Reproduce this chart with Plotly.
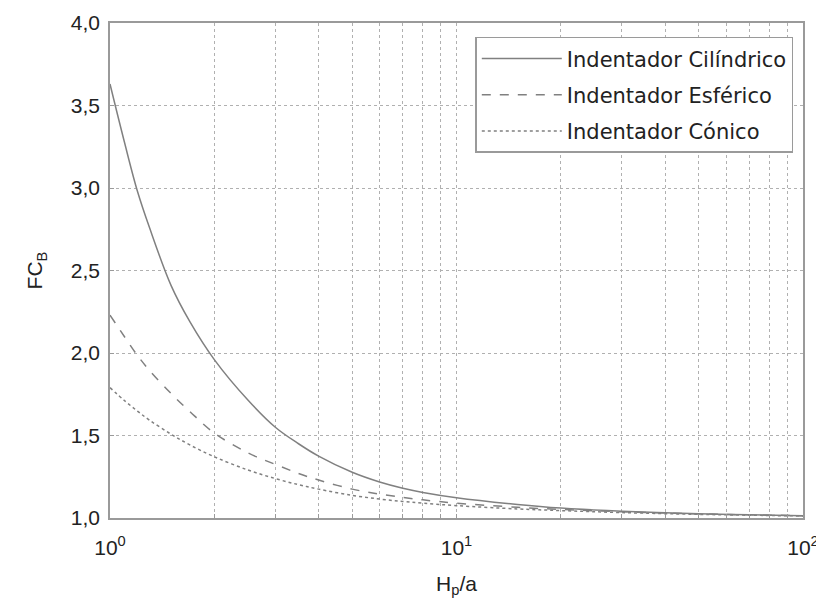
import plotly.graph_objects as go

# Data
hp_a = [1, 1.1, 1.2, 1.3, 1.5, 1.7, 2, 2.5, 3, 3.5, 4, 5, 6, 7, 8, 10, 15, 20, 30, 50, 70, 100]
cilindrico = [3.63, 3.28, 2.98, 2.76, 2.41, 2.19, 1.96, 1.715, 1.55, 1.45, 1.375, 1.277, 1.218, 1.18, 1.155,
              1.123, 1.082, 1.06, 1.041, 1.026, 1.019, 1.014]
esferico = [2.23, 2.10, 1.985, 1.895, 1.755, 1.645, 1.515, 1.395, 1.325, 1.27, 1.23, 1.175, 1.145, 1.125, 1.11,
            1.09, 1.065, 1.052, 1.038, 1.025, 1.019, 1.014]
conico = [1.79, 1.712, 1.648, 1.593, 1.508, 1.443, 1.371, 1.291, 1.239, 1.202, 1.175, 1.137, 1.115, 1.10, 1.09,
          1.075, 1.055, 1.045, 1.033, 1.022, 1.017, 1.012]

names = ["Indentador Cilíndrico", "Indentador Esférico", "Indentador Cónico"]
dashes = ["solid", "dash", "dot"]

x_grid = [1, 2, 3, 4, 5, 6, 7, 8, 9, 10, 20, 30, 40, 50, 60, 70, 80, 90, 100]
x_text = ["10<sup>0</sup>" if v == 1 else "10<sup>1</sup>" if v == 10 else "10<sup>2</sup>" if v == 100 else ""
          for v in x_grid]
y_ticks = [1.0, 1.5, 2.0, 2.5, 3.0, 3.5, 4.0]

fig = go.Figure()
for i, (ys, nm, ds) in enumerate(zip([cilindrico, esferico, conico], names, dashes)):
    fig.add_trace(go.Scatter(x=hp_a, y=ys, mode="lines", name=nm, line_shape="spline",
                             legendgroup=f"g{i}",
                             line=dict(color="#808080", width=1.5, dash=ds)))

axis_common = dict(showline=True, linecolor="#9a9a9a", linewidth=1.5, mirror=True,
                   showgrid=True, gridcolor="#b0b0b0", griddash="dot", gridwidth=1,
                   zeroline=False, ticks="inside", ticklen=4, tickcolor="#9a9a9a",
                   automargin=False, ticklabeloverflow="allow",
                   tickfont=dict(family="Liberation Sans", size=21, color="#222"))

fig.update_xaxes(type="log", range=[0, 2], tickvals=x_grid, ticktext=x_text,
                 ticklabelstandoff=10,
                 title=dict(text="H<sub>p</sub>/a", font=dict(family="Liberation Sans", size=21, color="#222"),
                            standoff=18),
                 **axis_common)
fig.update_yaxes(range=[1, 4], tickvals=y_ticks, tickformat=".1f",
                 ticklabelstandoff=4,
                 title=dict(text="FC<sub>B</sub>", font=dict(family="Liberation Sans", size=21, color="#222"),
                            standoff=22),
                 **axis_common)

# the page adds an 8px body margin, so the figure is 8px smaller and offset
fig.update_layout(
    width=816, height=594,
    margin=dict(l=102, r=21, t=15, b=84),
    plot_bgcolor="white", paper_bgcolor="white",
    separators=",.",
    showlegend=True,
    legend=dict(x=0.986, y=0.972, xanchor="right", yanchor="top",
                bgcolor="white", bordercolor="#9a9a9a", borderwidth=1.5,
                font=dict(family="DejaVu Sans", size=21, color="#222"),
                itemwidth=80, tracegroupgap=6),
)

fig.write_html("out.html")
